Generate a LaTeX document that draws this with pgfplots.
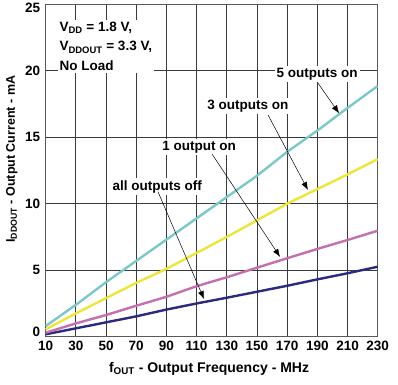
\documentclass[border=0pt]{standalone}
\usepackage{pgfplots}
\pgfplotsset{compat=1.18}
\usetikzlibrary{arrows.meta}
\usepackage{fontspec}
\setmainfont{Liberation Sans}
\definecolor{ccyan}{HTML}{7CC8C8}
\definecolor{cyel}{HTML}{EDE63A}
\definecolor{cpink}{HTML}{C46FAE}
\definecolor{cnavy}{HTML}{2B2A7E}
\definecolor{cgrid}{HTML}{3A3A3A}
\begin{document}
\begin{tikzpicture}[x=1pt,y=1pt]
\begin{axis}[
  at={(0,0)}, anchor=south west,
  scale only axis, width=332pt, height=332.5pt,
  xmin=10, xmax=230, ymin=0, ymax=25,
  xtick={10,30,...,230}, ytick={0,5,...,25},
  yticklabels={\raisebox{4.5pt}[\height][\depth]{0},5,10,15,20,\raisebox{-4pt}[\height][\depth]{25}},
  grid=major,
  major grid style={cgrid, line width=0.9pt},
  axis line style={gray!70!black, line width=1.2pt},
  major tick length=0pt,
  tick label style={font=\fontsize{13.5}{16}\selectfont\bfseries},
  /pgf/number format/assume math mode=true,
  xticklabel style={yshift=-1pt},
  yticklabel style={xshift=-2pt},
  xlabel={f\textsubscript{OUT} - Output Frequency - MHz},
  ylabel={I\textsubscript{DDOUT} - Output Current - mA},
  xlabel style={font=\fontsize{14}{16}\selectfont\bfseries, at={(axis description cs:0.492,-0.1062)}, anchor=base},
  ylabel style={font=\fontsize{12.5}{15}\selectfont\bfseries, at={(axis description cs:-0.0925,0.534)}, anchor=base},
  clip=false,
]
\addplot[cnavy, line width=2.4pt] coordinates {
 (10,0.18) (30,0.63) (50,1.08) (70,1.53) (90,2.04) (110,2.5) (130,2.93) (150,3.38) (170,3.83) (190,4.31) (210,4.77) (230,5.26)};
\addplot[cpink, line width=2.4pt] coordinates {
 (10,0.3) (30,1.0) (50,1.63) (70,2.33) (90,3.0) (110,3.8) (130,4.47) (150,5.19) (170,5.9) (190,6.6) (210,7.27) (230,7.97)};
\addplot[cyel, line width=2.4pt] coordinates {
 (10,0.55) (30,1.75) (50,2.9) (70,4.05) (90,5.1) (110,6.3) (130,7.5) (150,8.75) (170,10.0) (190,11.1) (210,12.2) (230,13.35)};
\addplot[ccyan, line width=2.4pt] coordinates {
 (10,0.8) (30,2.4) (50,4.1) (70,5.7) (90,7.3) (110,8.9) (130,10.5) (150,12.1) (170,13.9) (190,15.5) (210,17.2) (230,18.85)};
% annotations
\begin{scope}[every node/.style={font=\fontsize{13.5}{16}\selectfont\bfseries, fill=white, inner sep=2pt}]
\node[anchor=center] at (axis cs:189.8,19.75) {5 outputs on};
\node[anchor=center] at (axis cs:144,17.35) {3 outputs on};
\node[anchor=center] at (axis cs:111.6,14.26) {1 output on};
\node[anchor=center] at (axis cs:83.9,11.28) {all outputs off};
\node[anchor=north west, align=left, inner sep=2pt, font=\fontsize{13.5}{19.5}\selectfont\bfseries] at (axis cs:17.7,23.83) {V\textsubscript{DD} = 1.8 V,\\V\textsubscript{DDOUT} = 3.3 V,\\No Load};
\end{scope}
\draw[black, line width=0.5pt, -{Latex[length=8pt,width=6pt]}] (axis cs:190.4,19.07) -- (axis cs:204.4,16.8);
\draw[black, line width=0.5pt, -{Latex[length=8pt,width=6pt]}] (axis cs:157.4,16.66) -- (axis cs:183.8,11.03);
\draw[black, line width=0.5pt, -{Latex[length=8pt,width=6pt]}] (axis cs:120.2,13.74) -- (axis cs:165.3,6.0);
\draw[black, line width=0.5pt, -{Latex[length=8pt,width=6pt]}] (axis cs:84.4,10.9) -- (axis cs:114.9,2.83);
\end{axis}
\pgfresetboundingbox
\path (-45.7pt,-47.3pt) rectangle (352.3pt,336.7pt);
\end{tikzpicture}
\end{document}
